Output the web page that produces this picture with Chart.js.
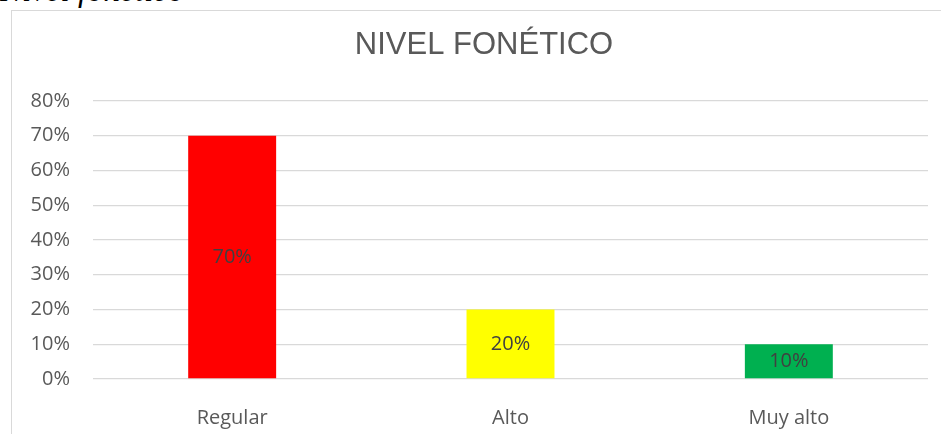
<!DOCTYPE html>
<html>
<head>
<meta charset="utf-8">
<script src="https://cdn.jsdelivr.net/npm/chart.js@4"></script>
<style>
    html, body { margin: 0; padding: 0; background: #fff; overflow: hidden; width: 941px; height: 434px; }
    #caption {
        position: absolute; left: 0; top: -26px;
        font: italic 33px "Liberation Serif", serif; line-height: 1;
        color: #000; white-space: nowrap;
    }
    #box {
        position: absolute; left: 11px; top: 10px;
        width: 944px; height: 430px;
        border: 1px solid #d9d9d9;
    }
</style>
</head>
<body>
<div id="caption">Nivel fonético</div>
<div id="box"><canvas id="nivelChart" width="944" height="430"></canvas></div>
<script>
const categories = ['Regular', 'Alto', 'Muy alto'];
const values = [0.70, 0.20, 0.10];
const barColors = ['#ff0000', '#ffff00', '#00b050'];
const yTicks = [0, 0.1, 0.2, 0.3, 0.4, 0.5, 0.6, 0.7, 0.8];
const chartTitle = 'NIVEL FONÉTICO';

const pct = v => Math.round(v * 100) + '%';

// title centred on the whole chart box, not on the padded area
const boxTitle = {
    id: 'boxTitle',
    afterDraw(chart) {
        const ctx = chart.ctx;
        ctx.save();
        ctx.font = '31px "Liberation Sans", Arial';
        ctx.fillStyle = '#595959';
        ctx.textAlign = 'center';
        ctx.textBaseline = 'alphabetic';
        ctx.fillText(chartTitle, chart.width / 2, 43);
        ctx.restore();
    }
};

// draws the value in the middle of each bar (no datalabels plugin available)
const centerLabels = {
    id: 'centerLabels',
    afterDatasetsDraw(chart) {
        const ctx = chart.ctx;
        const meta = chart.getDatasetMeta(0);
        ctx.save();
        ctx.font = '20px "Open Sans"';
        ctx.fillStyle = '#404040';
        ctx.textAlign = 'center';
        ctx.textBaseline = 'middle';
        meta.data.forEach((bar, i) => {
            const y = (bar.y + bar.base) / 2;
            ctx.fillText(pct(values[i]), bar.x, y);
        });
        ctx.restore();
    }
};

new Chart(document.getElementById('nivelChart'), {
    type: 'bar',
    data: {
        labels: categories,
        datasets: [{
            data: values,
            backgroundColor: barColors,
            borderWidth: 0,
            categoryPercentage: 1,
            barPercentage: 0.316
        }]
    },
    options: {
        responsive: false,
        animation: false,
        layout: { padding: { left: 0, right: 28, top: 90, bottom: 0 } },
        plugins: {
            legend: { display: false },
            tooltip: { enabled: false },
            title: { display: false }
        },
        scales: {
            x: {
                grid: { display: false },
                border: { display: false },
                ticks: {
                    color: '#595959',
                    font: { family: '"Open Sans"', size: 20 },
                    padding: 19
                },
                afterFit(scale) { scale.height = 62; }
            },
            y: {
                min: 0,
                max: 0.8,
                afterBuildTicks(scale) { scale.ticks = yTicks.map(v => ({ value: v })); },
                grid: { color: '#d9d9d9', lineWidth: 1.3, drawTicks: false },
                border: { display: false },
                ticks: {
                    color: '#595959',
                    font: { family: '"Open Sans"', size: 20 },
                    padding: 23,
                    callback: v => pct(v)
                },
                afterFit(scale) { scale.width = 81; }
            }
        }
    },
    plugins: [centerLabels, boxTitle]
});
</script>
</body>
</html>
